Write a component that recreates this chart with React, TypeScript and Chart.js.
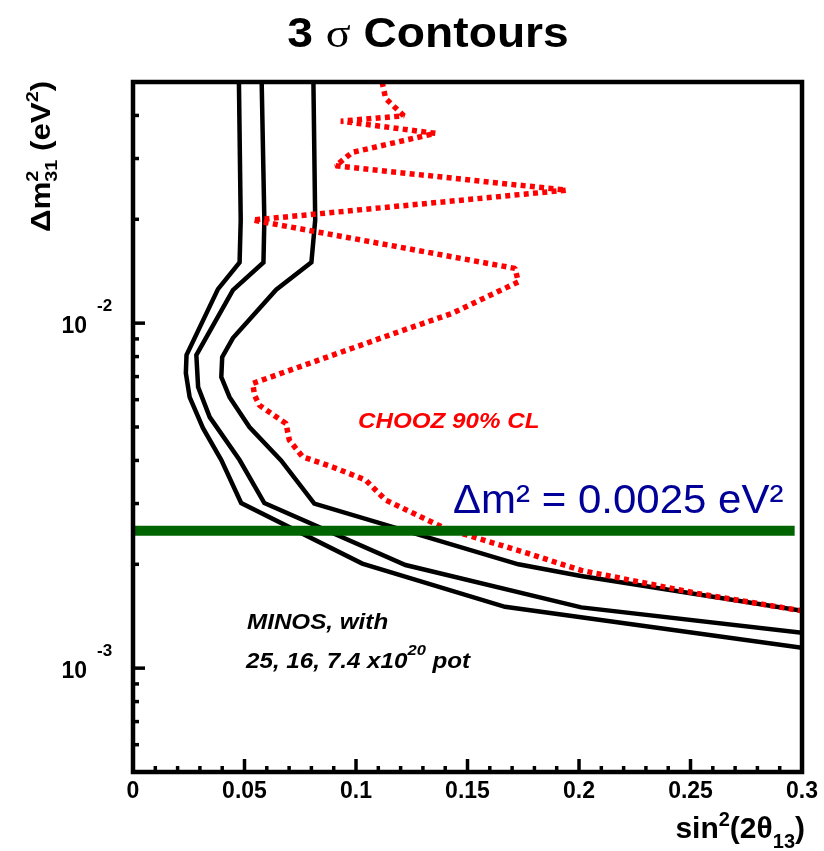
import React, { useEffect, useRef } from "react";
import { Chart, registerables } from "chart.js";

Chart.register(...registerables);

// ---------------- data ----------------
// MINOS 3 sigma contour, 25e20 POT (leftmost)
const minos25X = [0.0475, 0.0483, 0.0478, 0.0381, 0.024, 0.0237, 0.0254, 0.0314, 0.0396, 0.0485, 0.1028, 0.1668, 0.3];
const minos25Y = [0.05, 0.0199, 0.015, 0.01255, 0.00808, 0.00716, 0.0061, 0.00496, 0.00401, 0.00301, 0.00201, 0.001506, 0.001145];

// MINOS 3 sigma contour, 16e20 POT (middle)
const minos16X = [0.0577, 0.0589, 0.0585, 0.0448, 0.0284, 0.0292, 0.0344, 0.0478, 0.0589, 0.1222, 0.201, 0.3];
const minos16Y = [0.05, 0.0199, 0.015, 0.01246, 0.00808, 0.00653, 0.00534, 0.00401, 0.00301, 0.00199, 0.0015, 0.001266];

// MINOS 3 sigma contour, 7.4e20 POT (rightmost)
const minos74X = [0.0809, 0.0817, 0.08, 0.0642, 0.0448, 0.04, 0.0396, 0.0433, 0.0522, 0.0664, 0.0813, 0.1728, 0.2009, 0.3];
const minos74Y = [0.05, 0.0199, 0.015, 0.0125, 0.00905, 0.00797, 0.00698, 0.0061, 0.005, 0.004, 0.003, 0.002, 0.00185, 0.001466];

// CHOOZ 90% CL exclusion (dotted red)
const choozX = [0.1117, 0.1133, 0.1214, 0.0932, 0.1356, 0.0983, 0.0909, 0.1943, 0.0537, 0.1713, 0.1728, 0.143, 0.1192, 0.0537, 0.0545, 0.0567, 0.0686, 0.0701, 0.076, 0.0894, 0.1043, 0.1133, 0.14, 0.1772, 0.201, 0.2531, 0.3];
const choozY = [0.05, 0.0448, 0.0399, 0.0385, 0.0355, 0.03126, 0.02857, 0.02429, 0.0199, 0.01441, 0.01317, 0.01067, 0.00944, 0.00669, 0.00618, 0.00578, 0.00512, 0.00458, 0.0041, 0.00383, 0.00351, 0.00307, 0.00254, 0.00215, 0.00192, 0.001646, 0.001466];

// reference line dm^2 = 0.0025 eV^2
const refLineX = [0, 0.2967];
const refLineY = [0.0025, 0.0025];

// axis ticks
const yTickValues = [0.0005, 0.0006, 0.0007, 0.0008, 0.0009, 0.001, 0.002, 0.003, 0.004, 0.005, 0.006, 0.007, 0.008, 0.009, 0.01, 0.02, 0.03, 0.04, 0.05];
const yMajorTicks = [0.001, 0.01];
const yMajorExponents = ["-3", "-2"];
const xMin = 0;
const xMax = 0.3;
const yMin = 0.0005;
const yMax = 0.05;
const xMinorStep = 0.01;
const xMajorStep = 0.05;

const SANS = '"Liberation Sans", Arial, Helvetica, sans-serif';
const SERIF = '"Liberation Serif", "Times New Roman", serif';

type Run = {
  t: string;
  size: number;
  weight?: string;
  style?: string;
  family?: string;
  dy?: number;
  stack?: boolean;
};

function fontOf(r: Run) {
  return `${r.style || "normal"} ${r.weight || "bold"} ${r.size}px ${r.family || SANS}`;
}

function drawRuns(
  ctx: CanvasRenderingContext2D,
  x: number,
  y: number,
  runs: Run[],
  opts: { hs?: number; align?: "left" | "right" | "center"; rot?: number; color?: string } = {}
) {
  ctx.save();
  ctx.translate(x, y);
  if (opts.rot) ctx.rotate(opts.rot);
  ctx.scale(opts.hs ?? 1, 1);
  ctx.fillStyle = opts.color ?? "#000";
  ctx.textBaseline = "alphabetic";
  ctx.textAlign = "left";
  const widths = runs.map((r) => {
    ctx.font = fontOf(r);
    return ctx.measureText(r.t).width;
  });
  let total = 0;
  let pending = 0;
  runs.forEach((r, i) => {
    if (r.stack) pending = widths[i];
    else {
      total += Math.max(widths[i], pending);
      pending = 0;
    }
  });
  let cx = opts.align === "right" ? -total : opts.align === "center" ? -total / 2 : 0;
  pending = 0;
  runs.forEach((r, i) => {
    ctx.font = fontOf(r);
    ctx.fillText(r.t, cx, r.dy ?? 0);
    if (r.stack) pending = widths[i];
    else {
      cx += Math.max(widths[i], pending);
      pending = 0;
    }
  });
  ctx.restore();
}

function toPoints(xs: number[], ys: number[]) {
  return xs.map((x, i) => ({ x, y: ys[i] }));
}

function isMajorX(v: number) {
  const k = v / xMajorStep;
  return Math.abs(k - Math.round(k)) < 1e-6;
}

const decorPlugin = {
  id: "decor",
  afterDraw(chart: any) {
    const ctx: CanvasRenderingContext2D = chart.ctx;
    const { left, right, top, bottom } = chart.chartArea;
    const xs = chart.scales.x;
    const ys = chart.scales.y;

    ctx.save();
    // frame
    ctx.strokeStyle = "#000";
    ctx.lineWidth = 4.5;
    ctx.strokeRect(left, top, right - left, bottom - top);

    // y ticks (inward)
    ctx.lineWidth = 3.5;
    ctx.lineCap = "butt";
    yTickValues.forEach((v) => {
      const py = ys.getPixelForValue(v);
      if (py <= top + 2 || py >= bottom - 2) return;
      const len = yMajorTicks.includes(v) ? 12 : 6;
      ctx.beginPath();
      ctx.moveTo(left, py);
      ctx.lineTo(left + len, py);
      ctx.stroke();
    });
    // x ticks (inward)
    xs.ticks.forEach((t: any) => {
      const px = xs.getPixelForValue(t.value);
      if (px <= left + 2 || px >= right - 2) return;
      const len = isMajorX(t.value) ? 13 : 6;
      ctx.beginPath();
      ctx.moveTo(px, bottom);
      ctx.lineTo(px, bottom - len);
      ctx.stroke();
    });
    ctx.restore();

    // y tick labels 10^n
    yMajorTicks.forEach((v, i) => {
      const py = ys.getPixelForValue(v);
      drawRuns(ctx, 87, py + 10, [{ t: "10", size: 23 }], { align: "right" });
      drawRuns(ctx, 97, py - 12, [{ t: yMajorExponents[i], size: 17 }], { align: "left" });
    });

    // title
    drawRuns(
      ctx,
      428,
      47,
      [
        { t: "3 ", size: 42 },
        { t: "\u03c3", size: 42, weight: "normal", family: SERIF },
        { t: " Contours", size: 42 },
      ],
      { align: "center", hs: 1.1 }
    );

    // y axis title
    drawRuns(
      ctx,
      50,
      232,
      [
        { t: "\u0394m", size: 27 },
        { t: "2", size: 17, dy: -12, stack: true },
        { t: "31", size: 17, dy: 7 },
        { t: " (eV", size: 27 },
        { t: "2", size: 17, dy: -12 },
        { t: ")", size: 27 },
      ],
      { rot: -Math.PI / 2, hs: 1.16, align: "left" }
    );

    // x axis title
    drawRuns(
      ctx,
      805,
      838,
      [
        { t: "sin", size: 30 },
        { t: "2", size: 20, dy: -12 },
        { t: "(2", size: 30 },
        { t: "\u03b8", size: 30 },
        { t: "13", size: 20, dy: 10 },
        { t: ")", size: 30 },
      ],
      { align: "right" }
    );

    // annotations
    drawRuns(ctx, 358, 428, [{ t: "CHOOZ 90% CL", size: 22, style: "italic" }], { hs: 1.1, color: "#ff0000" });
    drawRuns(ctx, 453, 513, [{ t: "\u0394m\u00b2 = 0.0025 eV\u00b2", size: 40, weight: "normal" }], {
      hs: 1.05,
      color: "#000099",
    });
    drawRuns(ctx, 247, 629, [{ t: "MINOS, with", size: 22, style: "italic" }], { hs: 1.1 });
    drawRuns(
      ctx,
      246,
      668,
      [
        { t: "25, 16, 7.4 x10", size: 22, style: "italic" },
        { t: "20", size: 15, style: "italic", dy: -13 },
        { t: " pot", size: 22, style: "italic" },
      ],
      { hs: 1.1 }
    );
  },
};

export default function App() {
  const canvasRef = useRef<HTMLCanvasElement | null>(null);

  useEffect(() => {
    const canvas = canvasRef.current;
    if (!canvas) return;
    const lineBase = { showLine: true, pointRadius: 0, pointHoverRadius: 0, tension: 0, fill: false };
    const chart = new Chart(canvas, {
      type: "scatter",
      data: {
        datasets: [
          {
            ...lineBase,
            label: "\u0394m\u00b2 = 0.0025 eV\u00b2",
            data: toPoints(refLineX, refLineY),
            borderColor: "#006400",
            backgroundColor: "#006400",
            borderWidth: 10,
            order: 0,
          },
          {
            ...lineBase,
            label: "CHOOZ 90% CL",
            data: toPoints(choozX, choozY),
            borderColor: "#ff0000",
            backgroundColor: "#ff0000",
            borderWidth: 5.5,
            borderDash: [5, 4.3],
            borderJoinStyle: "bevel",
            order: 1,
          },
          {
            ...lineBase,
            label: "MINOS 25e20 POT",
            data: toPoints(minos25X, minos25Y),
            borderColor: "#000",
            backgroundColor: "#000",
            borderWidth: 4.5,
            order: 2,
          },
          {
            ...lineBase,
            label: "MINOS 16e20 POT",
            data: toPoints(minos16X, minos16Y),
            borderColor: "#000",
            backgroundColor: "#000",
            borderWidth: 4.5,
            order: 2,
          },
          {
            ...lineBase,
            label: "MINOS 7.4e20 POT",
            data: toPoints(minos74X, minos74Y),
            borderColor: "#000",
            backgroundColor: "#000",
            borderWidth: 4.5,
            order: 2,
          },
        ] as any,
      },
      options: {
        animation: false,
        responsive: false,
        devicePixelRatio: 1,
        events: [],
        layout: { padding: { left: 0, right: 19, top: 82, bottom: 0 } },
        plugins: {
          legend: { display: false },
          title: { display: false },
          tooltip: { enabled: false },
        },
        scales: {
          x: {
            type: "linear",
            position: "bottom",
            min: xMin,
            max: xMax,
            grid: { display: false, drawTicks: false },
            border: { display: false },
            ticks: {
              stepSize: xMinorStep,
              maxTicksLimit: 1000,
              autoSkip: false,
              maxRotation: 0,
              minRotation: 0,
              padding: 6,
              color: "#000",
              font: { family: SANS, size: 23, weight: "bold" },
              callback: (value: any) => {
                const v = Number(value);
                return isMajorX(v) ? String(Math.round(v * 100) / 100) : "";
              },
            },
            afterFit: (s: any) => {
              s.height = 79;
            },
          },
          y: {
            type: "logarithmic",
            position: "left",
            min: yMin,
            max: yMax,
            grid: { display: false, drawTicks: false },
            border: { display: false },
            ticks: { display: false },
            afterBuildTicks: (s: any) => {
              s.ticks = yTickValues.map((v) => ({ value: v }));
            },
            afterFit: (s: any) => {
              s.width = 133;
            },
          },
        } as any,
      },
      plugins: [decorPlugin],
    });
    return () => chart.destroy();
  }, []);

  return (
    <div style={{ position: "fixed", left: 0, top: 0, width: 824, height: 851, background: "#fff" }}>
      <canvas ref={canvasRef} width={824} height={851} style={{ display: "block" }} />
    </div>
  );
}
